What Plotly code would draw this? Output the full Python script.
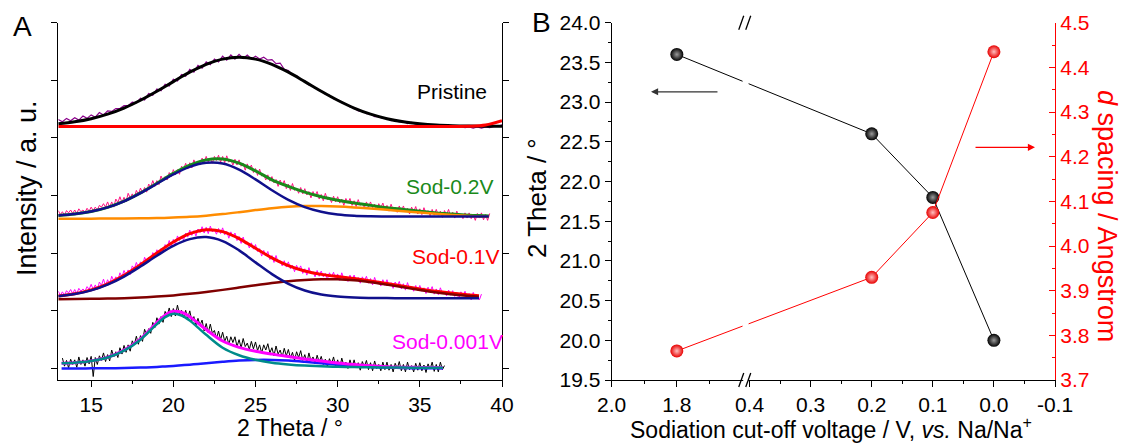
import numpy as np
import plotly.graph_objects as go

FONT = "Liberation Sans, Arial, sans-serif"

# ======================= Panel A data (offset intensities, a.u.) =======================
# Pristine
PRI_RAW_START, PRI_RAW_STEP = 13.0, 0.25
PRI_RAW = [4.32, 4.28, 4.34, 4.30, 4.35, 4.31, 4.38, 4.34, 4.40, 4.36, 4.44, 4.40, 4.47, 4.46, 4.51, 4.51,
           4.56, 4.56, 4.62, 4.61, 4.69, 4.66, 4.77, 4.74, 4.85, 4.82, 4.93, 4.90, 5.02, 4.99, 5.10, 5.07,
           5.19, 5.14, 5.26, 5.21, 5.32, 5.27, 5.37, 5.32, 5.42, 5.35, 5.44, 5.37, 5.45, 5.38, 5.44, 5.37,
           5.42, 5.37, 5.40, 5.35, 5.36, 5.29, 5.30, 5.19, 5.17, 5.09, 5.08, 5.01, 4.99, 4.92, 4.90, 4.84,
           4.82, 4.76, 4.74, 4.68, 4.66, 4.61, 4.59, 4.54, 4.52, 4.47, 4.47, 4.42, 4.42, 4.37, 4.37, 4.34,
           4.34, 4.30, 4.31, 4.28, 4.29, 4.25, 4.27, 4.24, 4.25, 4.23, 4.24, 4.22, 4.23, 4.21, 4.22, 4.20,
           4.21, 4.19, 4.20, 4.18, 4.19, 4.17, 4.19, 4.17, 4.19, 4.18, 4.20, 4.20, 4.23]
PRI_FIT_X = [13, 14, 15, 16, 17, 18, 19, 20, 21, 22, 23, 24, 25, 26, 27, 28, 29, 30, 31, 32, 33, 34, 35, 36,
             37, 38, 39, 40]
PRI_FIT = [4.246, 4.280, 4.334, 4.413, 4.519, 4.654, 4.810, 4.978, 5.141, 5.277, 5.368, 5.400, 5.368, 5.277,
           5.141, 4.978, 4.810, 4.654, 4.519, 4.413, 4.334, 4.280, 4.246, 4.224, 4.212, 4.206, 4.203, 4.201]
PRI_BASE = [4.20, 4.20, 4.20, 4.20, 4.20, 4.20, 4.20, 4.20, 4.20, 4.20, 4.20, 4.20, 4.20, 4.20,
            4.20, 4.20, 4.20, 4.20, 4.20, 4.20, 4.20, 4.20, 4.20, 4.20, 4.20, 4.203, 4.225, 4.30]

# Sod-0.2V
V02_RAW_START, V02_RAW_STEP = 13.0, 0.125
V02_RAW = [
    2.74, 2.67, 2.72, 2.66, 2.74, 2.70, 2.75, 2.69,  2.75, 2.69, 2.77, 2.72, 2.75, 2.71, 2.78, 2.73,
    2.80, 2.74, 2.80, 2.75, 2.83, 2.80, 2.86, 2.80,  2.89, 2.80, 2.89, 2.80, 2.94, 2.88, 2.98, 2.88,
    2.97, 2.89, 3.04, 2.96, 3.03, 2.96, 3.09, 3.02,  3.13, 3.05, 3.14, 3.06, 3.20, 3.15, 3.26, 3.16,
    3.26, 3.19, 3.34, 3.26, 3.33, 3.27, 3.40, 3.33,  3.45, 3.36, 3.45, 3.37, 3.51, 3.46, 3.56, 3.46,
    3.57, 3.48, 3.62, 3.53, 3.60, 3.53, 3.65, 3.57,  3.68, 3.58, 3.65, 3.56, 3.68, 3.61, 3.70, 3.58,
    3.68, 3.57, 3.69, 3.58, 3.62, 3.53, 3.63, 3.53,  3.62, 3.51, 3.56, 3.44, 3.55, 3.46, 3.53, 3.40,
    3.47, 3.35, 3.46, 3.34, 3.37, 3.27, 3.36, 3.25,  3.33, 3.22, 3.28, 3.16, 3.27, 3.18, 3.26, 3.12,
    3.20, 3.09, 3.21, 3.09, 3.13, 3.04, 3.14, 3.03,  3.12, 3.01, 3.07, 2.96, 3.07, 2.99, 3.07, 2.94,
    3.02, 2.91, 3.04, 2.93, 2.97, 2.88, 2.99, 2.89,  2.98, 2.87, 2.94, 2.83, 2.95, 2.87, 2.95, 2.83,
    2.91, 2.81, 2.93, 2.83, 2.87, 2.79, 2.89, 2.80,  2.89, 2.79, 2.85, 2.75, 2.86, 2.79, 2.87, 2.75,
    2.83, 2.73, 2.85, 2.75, 2.80, 2.71, 2.82, 2.72,  2.82, 2.72, 2.78, 2.68, 2.80, 2.72, 2.81, 2.68,
    2.77, 2.67, 2.79, 2.69, 2.74, 2.65, 2.76, 2.66,  2.76, 2.66, 2.73, 2.62, 2.74, 2.67, 2.76, 2.63,
    2.71, 2.61, 2.73, 2.63, 2.68, 2.60, 2.70, 2.61,  2.70, 2.60, 2.67, 2.57, 2.69, 2.61, 2.70, 2.58,
    2.67, 2.57, 2.69]
V02_FIT_X = [13, 14, 15, 16, 17, 18, 19, 20, 21, 22, 23, 24, 25, 26, 27, 28, 29, 30, 31, 32, 33, 34, 35, 36,
             37, 38, 39, 39.2]
V02_PEAK1 = [2.655, 2.679, 2.723, 2.795, 2.901, 3.042, 3.205, 3.367, 3.499, 3.568, 3.556, 3.450, 3.281, 3.093,
             2.925, 2.800, 2.719, 2.673, 2.650, 2.641, 2.637, 2.636, 2.635, 2.635, 2.635, 2.635, 2.635, 2.635]
V02_PEAK2 = [2.600, 2.600, 2.600, 2.601, 2.602, 2.605, 2.609, 2.618, 2.631, 2.652, 2.679, 2.712, 2.748, 2.781,
             2.807, 2.819, 2.818, 2.810, 2.795, 2.775, 2.753, 2.729, 2.705, 2.683, 2.663, 2.646, 2.633, 2.631]
V02_SUM = [2.655, 2.679, 2.723, 2.796, 2.903, 3.047, 3.214, 3.385, 3.530, 3.620, 3.635, 3.562, 3.429, 3.274,
           3.160, 3.060, 2.980, 2.920, 2.870, 2.830, 2.790, 2.760, 2.730, 2.700, 2.680, 2.660, 2.650, 2.645]

# Sod-0.1V
V01_RAW_START, V01_RAW_STEP = 13.0, 0.125
V01_RAW = [
    1.34, 1.27, 1.33, 1.27, 1.35, 1.31, 1.37, 1.30,  1.37, 1.30, 1.39, 1.34, 1.38, 1.34, 1.42, 1.37,
    1.46, 1.37, 1.45, 1.37, 1.50, 1.44, 1.55, 1.44,  1.54, 1.46, 1.60, 1.52, 1.59, 1.53, 1.66, 1.59,
    1.70, 1.62, 1.71, 1.63, 1.78, 1.73, 1.84, 1.75,  1.85, 1.78, 1.93, 1.86, 1.93, 1.88, 2.01, 1.95,
    2.06, 1.99, 2.08, 2.01, 2.15, 2.10, 2.22, 2.12,  2.24, 2.15, 2.30, 2.22, 2.29, 2.23, 2.35, 2.28,
    2.40, 2.31, 2.39, 2.30, 2.42, 2.36, 2.46, 2.35,  2.45, 2.34, 2.47, 2.37, 2.41, 2.33, 2.43, 2.34,
    2.44, 2.32, 2.38, 2.26, 2.37, 2.28, 2.35, 2.22,  2.29, 2.17, 2.28, 2.16, 2.19, 2.09, 2.18, 2.07,
    2.15, 2.03, 2.08, 1.95, 2.05, 1.96, 2.03, 1.89,  1.96, 1.84, 1.96, 1.84, 1.87, 1.78, 1.87, 1.76,
    1.85, 1.73, 1.79, 1.68, 1.79, 1.71, 1.78, 1.65,  1.73, 1.62, 1.75, 1.64, 1.68, 1.59, 1.70, 1.60,
    1.69, 1.59, 1.65, 1.55, 1.66, 1.59, 1.67, 1.55,  1.64, 1.53, 1.66, 1.55, 1.60, 1.51, 1.62, 1.52,
    1.62, 1.52, 1.58, 1.48, 1.59, 1.52, 1.60, 1.48,  1.56, 1.45, 1.58, 1.47, 1.52, 1.43, 1.54, 1.44,
    1.54, 1.43, 1.49, 1.39, 1.50, 1.43, 1.51, 1.38,  1.47, 1.36, 1.49, 1.38, 1.42, 1.34, 1.44, 1.35,
    1.44, 1.34, 1.40, 1.30, 1.41, 1.34, 1.42, 1.29,  1.38, 1.28, 1.40, 1.30, 1.34, 1.26, 1.36, 1.27,
    1.35, 1.25, 1.32, 1.21, 1.33, 1.26, 1.34, 1.22,  1.30, 1.19, 1.32, 1.22, 1.27, 1.19, 1.29]
V01_FIT_X = [13, 14, 15, 16, 17, 18, 19, 20, 21, 22, 23, 24, 25, 26, 27, 28, 29, 30, 31, 32, 33, 34, 35, 36,
             37, 38, 38.6]
V01_PEAK1 = [1.254, 1.291, 1.355, 1.455, 1.595, 1.769, 1.957, 2.127, 2.244, 2.280, 2.211, 2.050, 1.841, 1.637,
             1.470, 1.354, 1.284, 1.248, 1.231, 1.224, 1.221, 1.220, 1.220, 1.220, 1.220, 1.220, 1.220]
V01_PEAK2 = [1.202, 1.204, 1.208, 1.213, 1.220, 1.231, 1.247, 1.268, 1.295, 1.327, 1.364, 1.404, 1.445, 1.483,
             1.515, 1.537, 1.549, 1.547, 1.529, 1.496, 1.454, 1.408, 1.361, 1.319, 1.284, 1.256, 1.243]
V01_SUM = [1.256, 1.295, 1.363, 1.468, 1.615, 1.800, 2.004, 2.195, 2.339, 2.407, 2.375, 2.254, 2.086, 1.920,
           1.785, 1.691, 1.633, 1.595, 1.560, 1.520, 1.475, 1.428, 1.381, 1.339, 1.304, 1.276, 1.263]

# Sod-0.001V
V001_RAW_START, V001_RAW_STEP = 13.25, 0.125
V001_RAW = [
    0.18, 0.04, 0.14, 0.01, 0.16, 0.07,
    0.15, 0.02, 0.20, 0.07, 0.15, 0.04, 0.19, 0.08,  0.21, -0.14, 0.19, 0.07, 0.22, 0.14, 0.27, 0.12,
    0.24, 0.13, 0.32, 0.20, 0.29, 0.19, 0.36, 0.25,  0.40, 0.28, 0.41, 0.30, 0.48, 0.41, 0.56, 0.42,
    0.57, 0.47, 0.68, 0.58, 0.69, 0.61, 0.80, 0.71,  0.88, 0.77, 0.90, 0.80, 0.99, 0.91, 1.05, 0.90,
    1.04, 0.91, 1.10, 0.94, 1.01, 0.88, 1.01, 0.87,  1.00, 0.83, 0.90, 0.75, 0.87, 0.75, 0.84, 0.65,
    0.78, 0.62, 0.77, 0.61, 0.66, 0.52, 0.65, 0.50,  0.63, 0.47, 0.56, 0.42, 0.55, 0.45, 0.55, 0.38,
    0.50, 0.36, 0.52, 0.38, 0.44, 0.33, 0.47, 0.34,  0.46, 0.31, 0.41, 0.27, 0.41, 0.32, 0.43, 0.27,
    0.36, 0.22, 0.39, 0.25, 0.32, 0.20, 0.35, 0.22,  0.33, 0.18, 0.28, 0.14, 0.29, 0.19, 0.31, 0.14,
    0.24, 0.10, 0.27, 0.13, 0.20, 0.08, 0.23, 0.11,  0.21, 0.07, 0.16, 0.03, 0.17, 0.08, 0.20, 0.03,
    0.15, 0.01, 0.18, 0.05, 0.11, 0.00, 0.15, 0.02,  0.15, 0.01, 0.10, -0.03, 0.12, 0.03, 0.14, -0.02,
    0.10, -0.04, 0.13, 0.00, 0.07, -0.04, 0.11, -0.02,  0.11, -0.03, 0.07, -0.06, 0.09, 0.00, 0.12, -0.04,
    0.07, -0.06, 0.11, -0.02, 0.05, -0.06, 0.09, -0.03,  0.10, -0.04, 0.06, -0.07, 0.08, -0.01, 0.11, -0.05,
    0.07, -0.06, 0.11, -0.02, 0.05]
V001_FIT_X = [13.2, 14, 15, 16, 17, 18, 19, 19.5, 20, 20.5, 21, 21.5, 22, 23, 24, 25, 26, 27, 28, 29, 30, 31,
              32, 33, 34, 35, 36, 36.4]
V001_PEAK1 = [0.09, 0.10, 0.13, 0.19, 0.31, 0.50, 0.77, 0.89, 0.948, 0.92, 0.833, 0.709, 0.584, 0.36, 0.23,
              0.15, 0.10, 0.07, 0.05, 0.04, 0.03, 0.025, 0.02, 0.017, 0.015, 0.014, 0.013, 0.013]
V001_PEAK2 = [0.0, 0.0, 0.002, 0.004, 0.008, 0.015, 0.027, 0.035, 0.044, 0.055, 0.066, 0.078, 0.091, 0.116,
              0.137, 0.149, 0.149, 0.137, 0.116, 0.091, 0.066, 0.044, 0.027, 0.015, 0.008, 0.004, 0.002, 0.001]
V001_SUM = [0.09, 0.10, 0.132, 0.194, 0.318, 0.515, 0.797, 0.925, 0.992, 0.975, 0.899, 0.787, 0.675, 0.476,
            0.367, 0.299, 0.249, 0.207, 0.166, 0.131, 0.096, 0.069, 0.047, 0.032, 0.023, 0.018, 0.015, 0.014]

A_XTICKS = [15, 20, 25, 30, 35, 40]
A_YTICKS = [0, 1, 2, 3, 4, 5, 6]

# ======================= Panel B data =======================
CUTOFF_V = [1.8, 0.2, 0.1, 0.0]
TWO_THETA = [23.6, 22.6, 21.8, 20.0]
D_SPACING = [3.765, 3.930, 4.075, 4.435]
B_XTICKS = [2.0, 1.8, 0.4, 0.3, 0.2, 0.1, 0.0, -0.1]
B_XMINOR = [1.9, 1.7, 0.35, 0.25, 0.15, 0.05, -0.05]

# broken-axis scale: right segment (-0.1..0.4 V) linear, left segment (1.6..2.0 V) compressed
BREAK_LOW = 0.4
BREAK_HIGH = 1.6
BREAK_GAP = 0.0124
LEFT_SCALE = 0.533


def axis_pos(v):
    if v <= BREAK_LOW + 1e-9:
        return v
    return BREAK_LOW + BREAK_GAP + (v - BREAK_HIGH) * LEFT_SCALE


def raw_x(start, step, vals):
    return start + step * np.arange(len(vals))


fig = go.Figure()


def add_line(x, y, color, width, spline=True):
    fig.add_trace(go.Scatter(x=x, y=y, mode="lines", xaxis="x", yaxis="y",
                             line=dict(color=color, width=width, shape="spline" if spline else "linear"),
                             showlegend=False, hoverinfo="skip"))


# Pristine
add_line(raw_x(PRI_RAW_START, PRI_RAW_STEP, PRI_RAW), PRI_RAW, "#8b008b", 1.2, spline=False)
add_line(PRI_FIT_X, PRI_FIT, "#000000", 3)
add_line(PRI_FIT_X, PRI_BASE, "#ff0000", 3)
# Sod-0.2V
add_line(raw_x(V02_RAW_START, V02_RAW_STEP, V02_RAW), V02_RAW, "#ff1080", 1.0, spline=False)
add_line(V02_FIT_X, V02_SUM, "#1a8a1a", 3)
add_line(V02_FIT_X, V02_PEAK2, "#ff8c00", 2.5)
add_line(V02_FIT_X, V02_PEAK1, "#10108c", 2.5)
# Sod-0.1V
add_line(raw_x(V01_RAW_START, V01_RAW_STEP, V01_RAW), V01_RAW, "#ff00ff", 1.0, spline=False)
add_line(V01_FIT_X, V01_SUM, "#ff0000", 3)
add_line(V01_FIT_X, V01_PEAK2, "#800000", 2.5)
add_line(V01_FIT_X, V01_PEAK1, "#10108c", 2.5)
# Sod-0.001V
add_line(raw_x(V001_RAW_START, V001_RAW_STEP, V001_RAW), V001_RAW, "#000000", 1.0, spline=False)
add_line(V001_FIT_X, V001_PEAK2, "#1a1aff", 2.5)
add_line(V001_FIT_X, V001_SUM, "#ff00ff", 3)
add_line(V001_FIT_X, V001_PEAK1, "#008b8b", 2.5)

# ---------- Panel B traces ----------
bx = [axis_pos(v) for v in CUTOFF_V]
fig.add_trace(go.Scatter(x=bx, y=TWO_THETA, mode="lines+markers", xaxis="x2", yaxis="y2",
                         line=dict(color="#000000", width=1),
                         marker=dict(size=13, color="#000000",
                                     gradient=dict(type="radial", color="#9a9a9a"),
                                     line=dict(width=0)),
                         showlegend=False, hoverinfo="skip"))
fig.add_trace(go.Scatter(x=bx, y=D_SPACING, mode="lines+markers", xaxis="x2", yaxis="y4",
                         line=dict(color="#ff0000", width=1),
                         marker=dict(size=13, color="#e80000",
                                     gradient=dict(type="radial", color="#ffc0c0"),
                                     line=dict(width=0)),
                         showlegend=False, hoverinfo="skip"))

# ---------- Layout ----------
W, H = 1124, 446
A_DOM = [58.3 / W, 502 / W]
B_DOM = [611.7 / W, 1055 / W]
Y_DOM = [1 - 380 / H, 1 - 22.7 / H]

tickfont = dict(family=FONT, size=21, color="black")
common = dict(showgrid=False, zeroline=False, showline=True, linecolor="black", linewidth=1.3,
              tickcolor="black", tickwidth=1.3, automargin=False)

a_minor = dict(tickvals=[12.5 + 2.5 * k for k in range(12)], ticklen=3, ticks="outside",
               tickcolor="black", tickwidth=1.2)

fig.update_layout(
    width=W, height=H, autosize=False,
    margin=dict(l=0, r=0, t=0, b=0, pad=0, autoexpand=False),
    paper_bgcolor="white", plot_bgcolor="white",
    font=dict(family=FONT, color="black"),
    showlegend=False,
    xaxis=dict(domain=A_DOM, anchor="y", range=[13, 40], tickmode="array", tickvals=A_XTICKS,
               ticks="outside", ticklen=6, tickfont=tickfont, minor=a_minor, **common),
    yaxis=dict(domain=Y_DOM, anchor="x", range=[-0.2, 6.0], tickmode="array", tickvals=A_YTICKS,
               showticklabels=False, ticks="outside", ticklen=6, mirror="ticks", **common),
    xaxis3=dict(overlaying="x", side="top", anchor="y", range=[13, 40], tickmode="array",
                tickvals=A_XTICKS, ticks="inside", ticklen=5, showticklabels=False,
                minor=dict(tickvals=a_minor["tickvals"], ticklen=3, ticks="inside",
                           tickcolor="black", tickwidth=1.2), **common),
    xaxis2=dict(domain=B_DOM, anchor="y2", range=[axis_pos(2.0), axis_pos(-0.1)], tickmode="array",
                tickvals=[axis_pos(v) for v in B_XTICKS], ticktext=["%.1f" % v for v in B_XTICKS],
                ticks="outside", ticklen=6, tickfont=tickfont,
                minor=dict(tickvals=[axis_pos(v) for v in B_XMINOR], ticklen=3, ticks="outside",
                           tickcolor="black", tickwidth=1.2), **common),
    xaxis4=dict(overlaying="x2", side="top", anchor="y2", range=[axis_pos(2.0), axis_pos(-0.1)],
                tickmode="array", tickvals=[axis_pos(v) for v in B_XTICKS], ticks="inside", ticklen=5,
                showticklabels=False,
                minor=dict(tickvals=[axis_pos(v) for v in B_XMINOR], ticklen=3, ticks="inside",
                           tickcolor="black", tickwidth=1.2), **common),
    yaxis2=dict(domain=Y_DOM, anchor="x2", range=[19.5, 24.0], tick0=19.5, dtick=0.5, tickformat=".1f",
                ticks="outside", ticklen=6, tickfont=tickfont,
                minor=dict(dtick=0.25, tick0=19.5, ticklen=3, ticks="outside", tickcolor="black",
                           tickwidth=1.2), **common),
    yaxis4=dict(overlaying="y2", side="right", anchor="x2", range=[3.7, 4.5], tick0=3.7, dtick=0.1,
                tickformat=".1f", ticks="inside", ticklen=6,
                tickfont=dict(family=FONT, size=21, color="#ff0000"),
                showgrid=False, zeroline=False, showline=True, linecolor="#ff0000", linewidth=1.3,
                tickcolor="#ff0000", tickwidth=1.3, automargin=False,
                minor=dict(dtick=0.05, tick0=3.7, ticklen=3, ticks="inside", tickcolor="#ff0000",
                           tickwidth=1.2)),
)


def px(xp):
    return xp / W


def py(yp):
    return 1 - yp / H


ann = []


def text(x, y, s, size=21, color="black", angle=0):
    ann.append(dict(x=px(x), y=py(y), xref="paper", yref="paper", text=s, showarrow=False,
                    font=dict(family=FONT, size=size, color=color), textangle=angle,
                    xanchor="center", yanchor="middle"))


text(22, 27, "A", size=28)
text(541, 22, "B", size=28)
text(452, 91, "Pristine")
text(450, 186, "Sod-0.2V", color="#1a8a1a")
text(456, 256, "Sod-0.1V", color="#ff0000")
text(447, 341, "Sod-0.001V", color="#ff00ff")
text(290, 428, "2 Theta / \u00b0", size=23)
text(831, 428, "Sodiation cut-off voltage / V, <i>vs.</i> Na/Na<sup>+</sup>", size=23)
text(27, 188, "Intensity / a. u.", size=27, angle=-90)
text(537, 198, "2 Theta / \u00b0", size=26, angle=-90)
text(1107, 216, "<i>d</i> spacing / Angstrom", size=27, color="#ff0000", angle=90)

# arrows pointing to the relevant axes
ann.append(dict(x=0.5613, y=23.13, xref="x2", yref="y2", ax=68, ay=0, text="", showarrow=True,
                arrowhead=2, arrowsize=1.1, arrowwidth=1.3, arrowcolor="#333333"))
ann.append(dict(x=-0.0673, y=22.43, xref="x2", yref="y2", ax=-61, ay=0, text="", showarrow=True,
                arrowhead=2, arrowsize=1.1, arrowwidth=1.3, arrowcolor="#ff0000"))
fig.update_layout(annotations=ann)

# axis-break marks
xb = BREAK_LOW + BREAK_GAP / 2
shapes = [
    dict(type="rect", xref="x2", yref="y2 domain", x0=BREAK_LOW + 0.0015, x1=BREAK_LOW + BREAK_GAP - 0.001,
         y0=0.004, y1=0.996, fillcolor="white", line=dict(width=0), layer="above"),
]
for ya in (Y_DOM[0], Y_DOM[1]):
    shapes.append(dict(type="rect", xref="x2", yref="paper", xsizemode="pixel", ysizemode="pixel",
                       xanchor=xb, yanchor=ya, x0=-2.5, x1=2.5, y0=-3, y1=3,
                       fillcolor="white", line=dict(width=0), layer="above"))
    for off in (-4.5, 2.5):
        shapes.append(dict(type="line", xref="x2", yref="paper", xsizemode="pixel", ysizemode="pixel",
                           xanchor=xb, yanchor=ya, x0=off - 2.5, x1=off + 2.5, y0=-7, y1=7,
                           line=dict(color="black", width=1.3), layer="above"))
fig.update_layout(shapes=shapes)

fig.write_html("out.html")
